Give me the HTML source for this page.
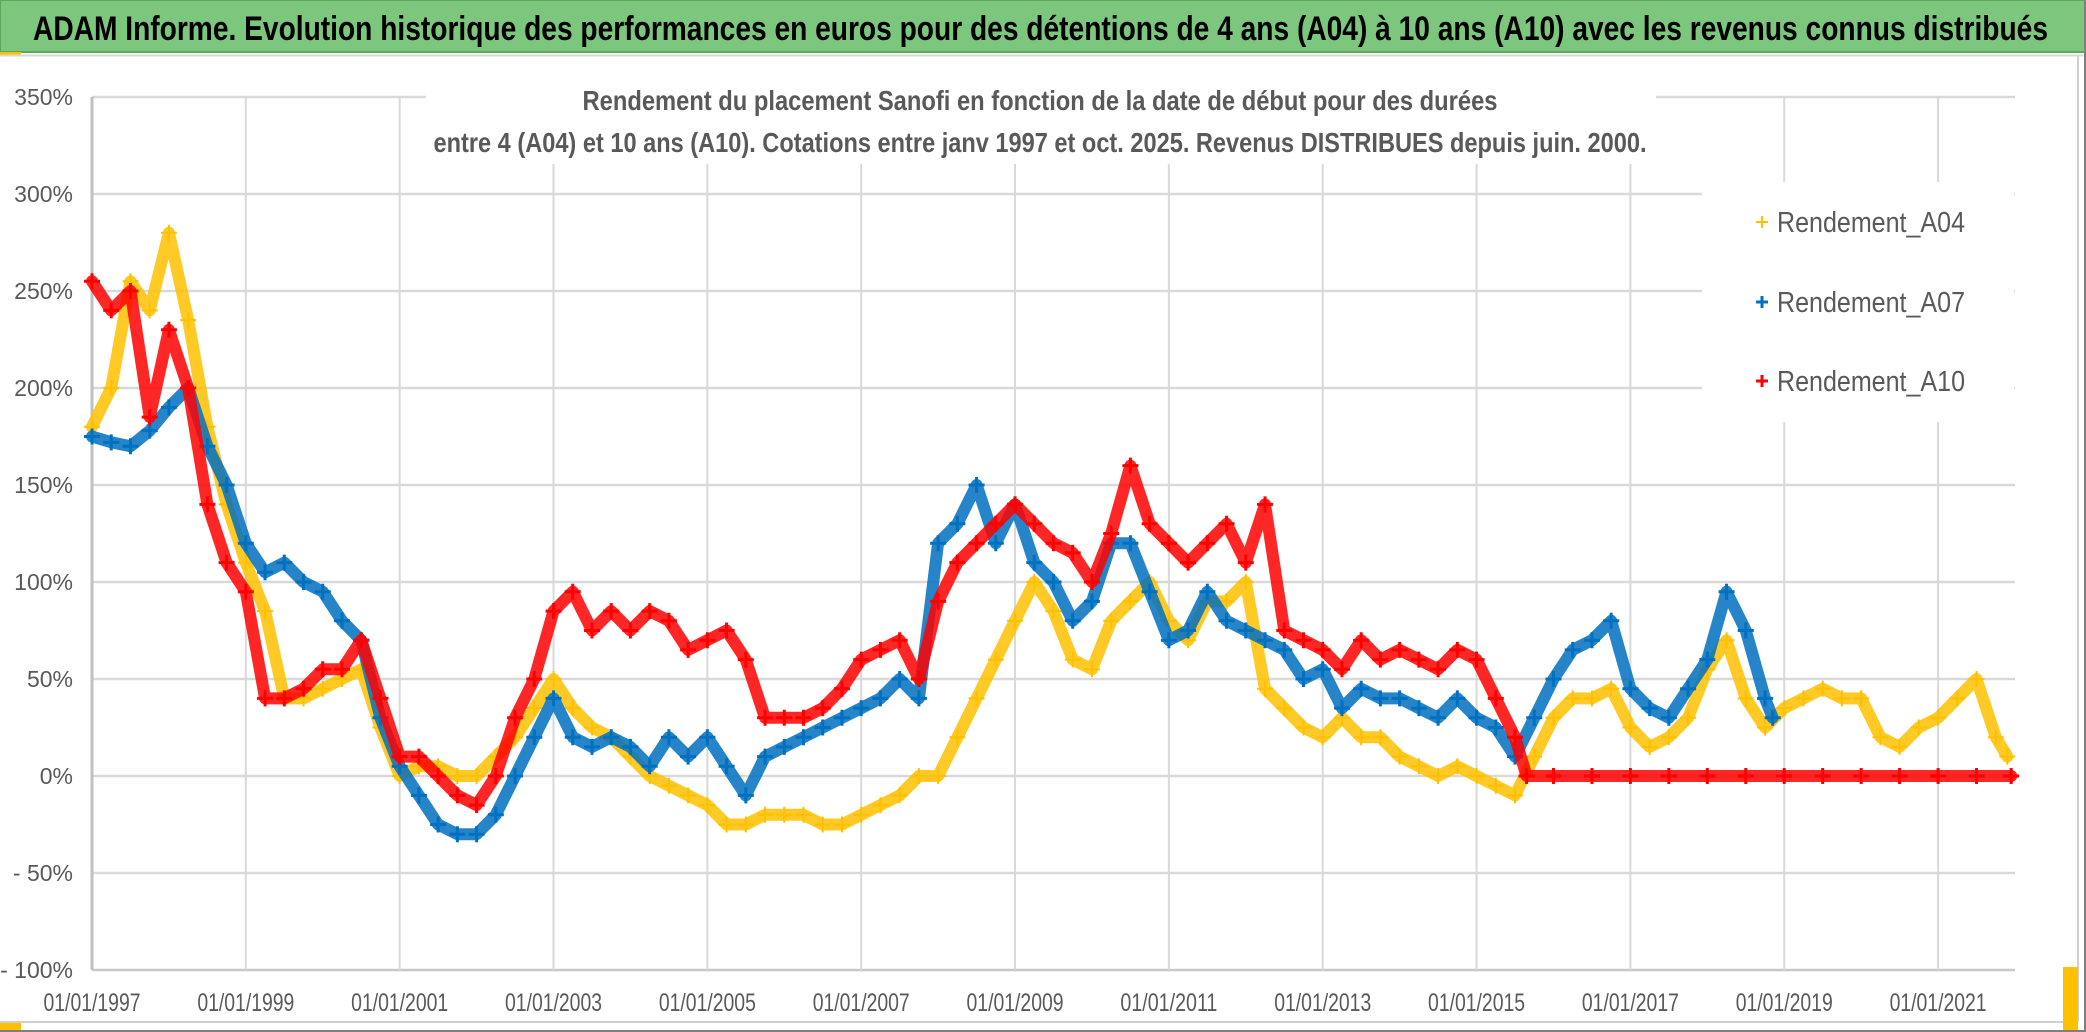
<!DOCTYPE html>
<html><head><meta charset="utf-8"><style>html,body{margin:0;padding:0;background:#fff}svg{display:block}</style></head>
<body>
<svg id="chart" width="2086" height="1032" viewBox="0 0 2086 1032" xmlns="http://www.w3.org/2000/svg" font-family="'Liberation Sans Narrow','Liberation Sans',sans-serif">
<rect x="0" y="0" width="2086" height="1032" fill="#fff"/>
<rect x="0" y="0" width="2086" height="52" fill="#7dc67d" stroke="#5aa95a" stroke-width="2"/>
<text x="33" y="40" font-size="34" font-weight="bold" fill="#000" textLength="2015" lengthAdjust="spacingAndGlyphs">ADAM Informe. Evolution historique des performances en euros pour des détentions de 4 ans (A04) à 10 ans (A10) avec les revenus connus distribués</text>
<rect x="0" y="52" width="21" height="3" fill="#ffc000"/>
<line x1="0" y1="55.5" x2="2086" y2="55.5" stroke="#d9d9d9" stroke-width="2"/>
<g id="grid"></g>
<rect x="426" y="84" width="1230" height="80" fill="#fff"/>
<text x="1040" y="110" font-size="28" font-weight="bold" fill="#595959" text-anchor="middle" textLength="915" lengthAdjust="spacingAndGlyphs">Rendement du placement Sanofi en fonction de la date de début pour des durées</text>
<text x="1040" y="152" font-size="28" font-weight="bold" fill="#595959" text-anchor="middle" textLength="1213" lengthAdjust="spacingAndGlyphs">entre 4 (A04) et 10 ans (A10). Cotations entre janv 1997 et oct. 2025. Revenus DISTRIBUES depuis juin. 2000.</text>
<g id="series"></g>
<rect x="1702" y="182" width="312" height="240" fill="#fff"/>
<g id="legend"></g>
<g id="axes"></g>
<line x1="2078" y1="56" x2="2078" y2="1022" stroke="#d0d0d0" stroke-width="2"/>
<line x1="0" y1="1022" x2="2078" y2="1022" stroke="#d0d0d0" stroke-width="2"/>
<line x1="2085" y1="0" x2="2085" y2="1032" stroke="#7f7f7f" stroke-width="2"/>
<line x1="0" y1="1031" x2="2086" y2="1031" stroke="#7f7f7f" stroke-width="2"/>
<rect x="2063" y="967" width="15" height="63" fill="#ffc000"/>
<rect x="0" y="1023" width="21" height="7" fill="#ffc000"/>
</svg>
<script>
const yTicks = [350,300,250,200,150,100,50,0,-50,-100];
const yTickLabels = ["350%","300%","250%","200%","150%","100%","50%","0%","- 50%","- 100%"];
const xTicks = [1997,1999,2001,2003,2005,2007,2009,2011,2013,2015,2017,2019,2021];
const xTickLabels = ["01/01/1997","01/01/1999","01/01/2001","01/01/2003","01/01/2005","01/01/2007","01/01/2009","01/01/2011","01/01/2013","01/01/2015","01/01/2017","01/01/2019","01/01/2021"];
const seriesNames = ["Rendement_A04","Rendement_A07","Rendement_A10"];
const datesA04 = [1997,1997.25,1997.5,1997.75,1998,1998.25,1998.5,1998.75,1999,1999.25,1999.5,1999.75,2000,2000.25,2000.5,2000.75,2001,2001.25,2001.5,2001.75,2002,2002.25,2002.5,2002.75,2003,2003.25,2003.5,2003.75,2004,2004.25,2004.5,2004.75,2005,2005.25,2005.5,2005.75,2006,2006.25,2006.5,2006.75,2007,2007.25,2007.5,2007.75,2008,2008.25,2008.5,2008.75,2009,2009.25,2009.5,2009.75,2010,2010.25,2010.5,2010.75,2011,2011.25,2011.5,2011.75,2012,2012.25,2012.5,2012.75,2013,2013.25,2013.5,2013.75,2014,2014.25,2014.5,2014.75,2015,2015.25,2015.5,2015.75,2016,2016.25,2016.5,2016.75,2017,2017.25,2017.5,2017.75,2018,2018.25,2018.5,2018.75,2019,2019.25,2019.5,2019.75,2020,2020.25,2020.5,2020.75,2021,2021.25,2021.5,2021.75,2021.9];
const valuesA04 = [180,200,255,240,280,235,180,140,110,85,40,40,45,50,55,25,0,5,5,0,0,10,20,35,50,35,25,20,10,0,-5,-10,-15,-25,-25,-20,-20,-20,-25,-25,-20,-15,-10,0,0,20,40,60,80,100,85,60,55,80,90,100,80,70,90,90,100,45,35,25,20,30,20,20,10,5,0,5,0,-5,-10,10,30,40,40,45,25,15,20,30,55,70,40,25,35,40,45,40,40,20,15,25,30,40,50,20,10];
const datesA07 = [1997,1997.25,1997.5,1997.75,1998,1998.25,1998.5,1998.75,1999,1999.25,1999.5,1999.75,2000,2000.25,2000.5,2000.75,2001,2001.25,2001.5,2001.75,2002,2002.25,2002.5,2002.75,2003,2003.25,2003.5,2003.75,2004,2004.25,2004.5,2004.75,2005,2005.25,2005.5,2005.75,2006,2006.25,2006.5,2006.75,2007,2007.25,2007.5,2007.75,2008,2008.25,2008.5,2008.75,2009,2009.25,2009.5,2009.75,2010,2010.25,2010.5,2010.75,2011,2011.25,2011.5,2011.75,2012,2012.25,2012.5,2012.75,2013,2013.25,2013.5,2013.75,2014,2014.25,2014.5,2014.75,2015,2015.25,2015.5,2015.75,2016,2016.25,2016.5,2016.75,2017,2017.25,2017.5,2017.75,2018,2018.25,2018.5,2018.75,2018.85];
const valuesA07 = [175,172,170,178,190,200,170,150,120,105,110,100,95,80,70,30,5,-10,-25,-30,-30,-20,0,20,40,20,15,20,15,5,20,10,20,5,-10,10,15,20,25,30,35,40,50,40,120,130,150,120,140,110,100,80,90,120,120,95,70,75,95,80,75,70,65,50,55,35,45,40,40,35,30,40,30,25,10,30,50,65,70,80,45,35,30,45,60,95,75,40,30];
const datesA10 = [1997,1997.25,1997.5,1997.75,1998,1998.25,1998.5,1998.75,1999,1999.25,1999.5,1999.75,2000,2000.25,2000.5,2000.75,2001,2001.25,2001.5,2001.75,2002,2002.25,2002.5,2002.75,2003,2003.25,2003.5,2003.75,2004,2004.25,2004.5,2004.75,2005,2005.25,2005.5,2005.75,2006,2006.25,2006.5,2006.75,2007,2007.25,2007.5,2007.75,2008,2008.25,2008.5,2008.75,2009,2009.25,2009.5,2009.75,2010,2010.25,2010.5,2010.75,2011,2011.25,2011.5,2011.75,2012,2012.25,2012.5,2012.75,2013,2013.25,2013.5,2013.75,2014,2014.25,2014.5,2014.75,2015,2015.25,2015.5,2015.65,2016,2016.5,2017,2017.5,2018,2018.5,2019,2019.5,2020,2020.5,2021,2021.5,2021.95];
const valuesA10 = [255,240,250,185,230,200,140,110,95,40,40,45,55,55,70,40,10,10,0,-10,-15,0,30,50,85,95,75,85,75,85,80,65,70,75,60,30,30,30,35,45,60,65,70,50,90,110,120,130,140,130,120,115,100,125,160,130,120,110,120,130,110,140,75,70,65,55,70,60,65,60,55,65,60,40,20,0,0,0,0,0,0,0,0,0,0,0,0,0,0];
const colors = ["#ffc000","#0070c0","#ff0000"];

const NS = "http://www.w3.org/2000/svg";
const X0 = 92, X1 = 2015, Y0 = 97, Y1 = 970;
const xMin = 1997, xMax = 2022.0, yMin = -100, yMax = 350;
function xs(d){ return X0 + (d - xMin) / (xMax - xMin) * (X1 - X0); }
function ys(v){ return Y1 - (v - yMin) / (yMax - yMin) * (Y1 - Y0); }
function mk(tag, attrs, parent){ const e = document.createElementNS(NS, tag); for (const k in attrs) e.setAttribute(k, attrs[k]); parent.appendChild(e); return e; }

const grid = document.getElementById('grid');
yTicks.forEach((t) => {
  const l = mk('line', {x1:X0, x2:X1, y1:ys(t), y2:ys(t), stroke: t===-100 ? '#c8c8c8' : '#d9d9d9', 'stroke-width':2.5}, grid);
  
  
});
xTicks.forEach((t) => {
  const l = mk('line', {x1:xs(t), x2:xs(t), y1:Y0, y2:Y1, stroke: t===1997 ? '#c0c0c0' : '#d9d9d9', 'stroke-width': t===1997 ? 3 : 2}, grid);
  
  
});

const axes = document.getElementById('axes');
yTicks.forEach((t, i) => {
  const tx = mk('text', {x:73, y:ys(t)+8, 'font-size':23, fill:'#595959', 'text-anchor':'end'}, axes);
  tx.textContent = yTickLabels[i];
  
  
});
xTicks.forEach((t, i) => {
  const tx = mk('text', {x:xs(t), y:1011, 'font-size':25, fill:'#595959', 'text-anchor':'middle', textLength:97, lengthAdjust:'spacingAndGlyphs'}, axes);
  tx.textContent = xTickLabels[i];
  
  
});

const seriesG = document.getElementById('series');
const allDates = [datesA04, datesA07, datesA10];
const allVals = [valuesA04, valuesA07, valuesA10];
[0,1,2].forEach((s) => {
  const g = mk('g', {}, seriesG);
  
  
  const d = allDates[s], v = allVals[s];
  let p = '';
  d.forEach((dd, i) => { p += (i ? 'L' : 'M') + xs(dd).toFixed(1) + ' ' + ys(v[i]).toFixed(1); });
  const path = mk('path', {d:p, fill:'none', stroke:colors[s], 'stroke-width':12, 'stroke-linejoin':'round', 'stroke-linecap':'round', opacity:0.85}, g);
  
  
  d.forEach((dd, i) => {
    const cx = xs(dd), cy = ys(v[i]), r = 8;
    const m = mk('path', {d:`M${cx-r} ${cy}H${cx+r}M${cx} ${cy-r}V${cy+r}`, stroke:colors[s], 'stroke-width': s===0 ? 2 : 3}, g);
    
    
  });
});

const legend = document.getElementById('legend');
const legY = [222, 302, 381];
seriesNames.forEach((n, i) => {
  const g = mk('g', {}, legend);
  
  
  mk('path', {d:`M${1756} ${legY[i]}H${1768}M${1762} ${legY[i]-6}V${legY[i]+6}`, stroke:colors[i], 'stroke-width': i===0 ? 2 : 3}, g);
  const t = mk('text', {x:1777, y:legY[i]+10, 'font-size':29, fill:'#595959', textLength:188, lengthAdjust:'spacingAndGlyphs'}, g);
  t.textContent = n;
});
</script>
</body></html>
